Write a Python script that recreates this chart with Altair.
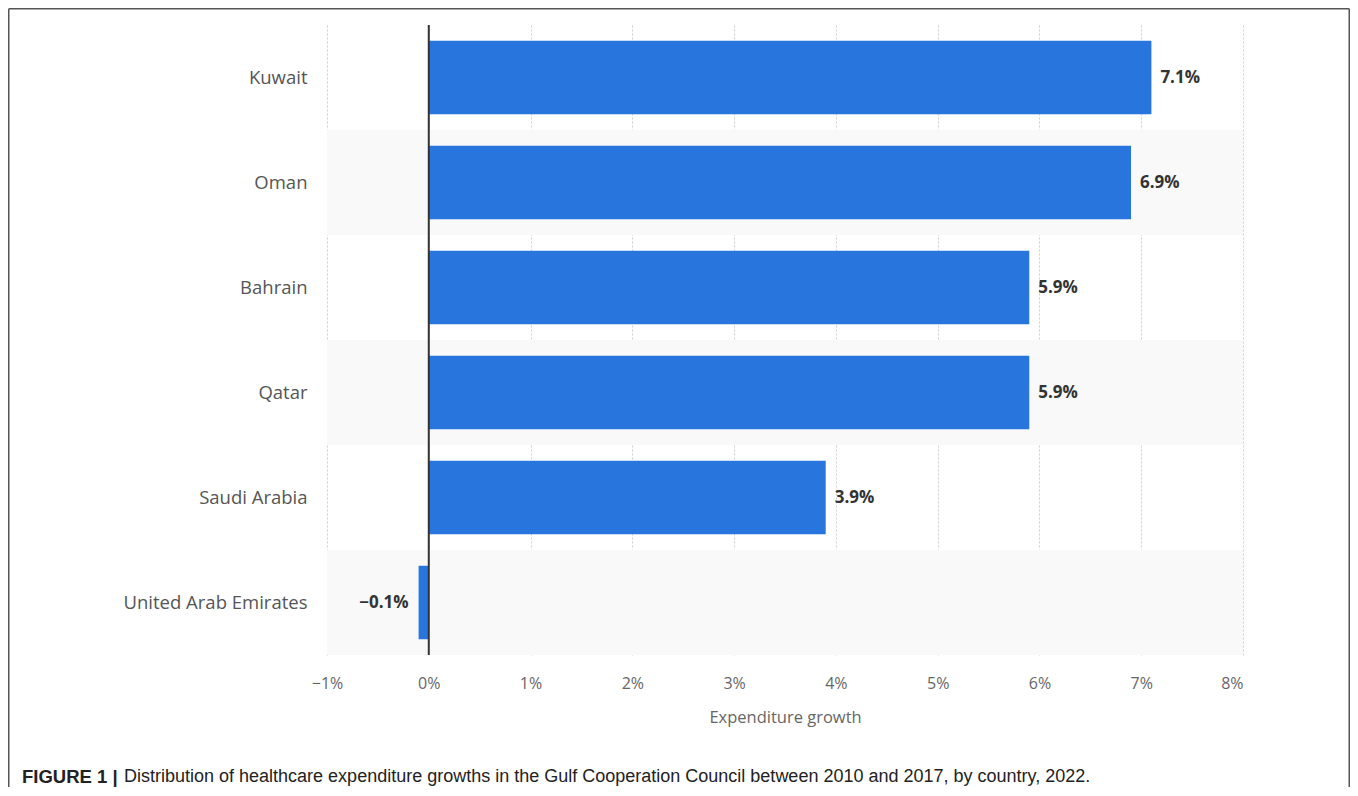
import altair as alt
import pandas as pd

countries = ["Kuwait", "Oman", "Bahrain", "Qatar", "Saudi Arabia", "United Arab Emirates"]
growth = [7.1, 6.9, 5.9, 5.9, 3.9, -0.1]
banded = ["Oman", "Qatar", "United Arab Emirates"]
ticks = [-1, 0, 1, 2, 3, 4, 5, 6, 7, 8]

caption_bold = "FIGURE 1 |"
caption_text = ("Distribution of healthcare expenditure growths in the Gulf Cooperation Council "
                "between 2010 and 2017, by country, 2022.")
x_title = "Expenditure growth"

df = pd.DataFrame({"country": countries, "growth": growth})
df["frac"] = df["growth"] / 100
bands_df = pd.DataFrame({"country": banded})
one = pd.DataFrame({"k": [0]})

W, H = 916, 630
FONT = "Open Sans"

yscale = alt.Scale(domain=countries, paddingInner=0, paddingOuter=0)
xscale = alt.Scale(domain=[-0.01, 0.08], nice=False, zero=False)

y_enc = alt.Y("country:N", scale=yscale, sort=countries,
              axis=alt.Axis(title=None, ticks=False, domain=False, labelPadding=20,
                            labelFontSize=18.5, labelColor="#555555", labelFont=FONT,
                            labelLimit=300))

bands = alt.Chart(bands_df).mark_rect(color="#f9f9f9").encode(
    y=y_enc,
    x=alt.value(0), x2=alt.value(W),
)

x_axis = alt.Axis(values=[t / 100 for t in ticks], format=".0%", title=x_title,
                  grid=True, gridDash=[2, 2], gridColor="#cfcfcf", gridWidth=1,
                  ticks=False, domain=False, labelPadding=20, labelFontSize=16,
                  labelFlush=False,
                  labelAlign=alt.ExprRef("datum.value >= 0.079 ? 'right' : 'center'"),
                  labelColor="#666666", labelFont=FONT, titleFont=FONT,
                  titleFontSize=16.5, titleFontWeight="normal", titleColor="#666666",
                  titlePadding=18)

grid = alt.Chart(df).mark_bar(opacity=0).encode(
    x=alt.X("frac:Q", scale=xscale, axis=x_axis),
    y=y_enc,
)

bars = alt.Chart(df).mark_bar(color="#2876dd", height=alt.RelativeBandSize(0.7)).encode(
    x=alt.X("frac:Q", scale=xscale),
    x2=alt.datum(0),
    y=alt.Y("country:N", scale=yscale, sort=countries),
)

zero = alt.Chart(one).mark_rule(color="#333333", strokeWidth=2).encode(
    x=alt.datum(0),
    y=alt.value(0), y2=alt.value(H),
)

pos_labels = alt.Chart(df).transform_filter("datum.growth >= 0").mark_text(
    align="left", dx=9, fontSize=17, fontWeight="bold", color="#333333", font=FONT
).encode(
    x=alt.X("frac:Q", scale=xscale),
    y=alt.Y("country:N", scale=yscale, sort=countries),
    text=alt.Text("frac:Q", format=".1%"),
)

neg_labels = alt.Chart(df).transform_filter("datum.growth < 0").mark_text(
    align="right", dx=-10, fontSize=17, fontWeight="bold", color="#333333", font=FONT
).encode(
    x=alt.X("frac:Q", scale=xscale),
    y=alt.Y("country:N", scale=yscale, sort=countries),
    text=alt.Text("frac:Q", format=".1%"),
)

FL, FR, FT = -318.25, 1022.25, -16.25
frame_left = alt.Chart(one).mark_rule(color="#555555", strokeWidth=1.5).encode(
    x=alt.value(FL), y=alt.value(FT), y2=alt.value(800))
frame_right = alt.Chart(one).mark_rule(color="#555555", strokeWidth=1.5).encode(
    x=alt.value(FR), y=alt.value(FT), y2=alt.value(800))
frame_top = alt.Chart(one).mark_rule(color="#555555", strokeWidth=1.5).encode(
    x=alt.value(FL), x2=alt.value(FR), y=alt.value(FT))

cap1 = alt.Chart(pd.DataFrame({"t": [caption_bold]})).mark_text(
    align="left", baseline="middle", fontSize=18.5, fontWeight="bold",
    font="Liberation Sans", color="#222222"
).encode(x=alt.value(-305), y=alt.value(752), text="t:N")

cap2 = alt.Chart(pd.DataFrame({"t": [caption_text]})).mark_text(
    align="left", baseline="middle", fontSize=18, fontWeight="normal",
    font="Liberation Sans", color="#222222"
).encode(x=alt.value(-203), y=alt.value(752), text="t:N")

chart = alt.layer(bands, grid, bars, zero, pos_labels, neg_labels,
                  frame_left, frame_right, frame_top, cap1, cap2).properties(
    width=W, height=H,
    padding={"left": 319, "top": 17, "right": 107, "bottom": 132},
    autosize=alt.AutoSizeParams(type="none"),
    background="white",
).configure_view(strokeWidth=0, stroke="transparent")

chart.save("out.html", embed_options={"renderer": "svg", "actions": False})
